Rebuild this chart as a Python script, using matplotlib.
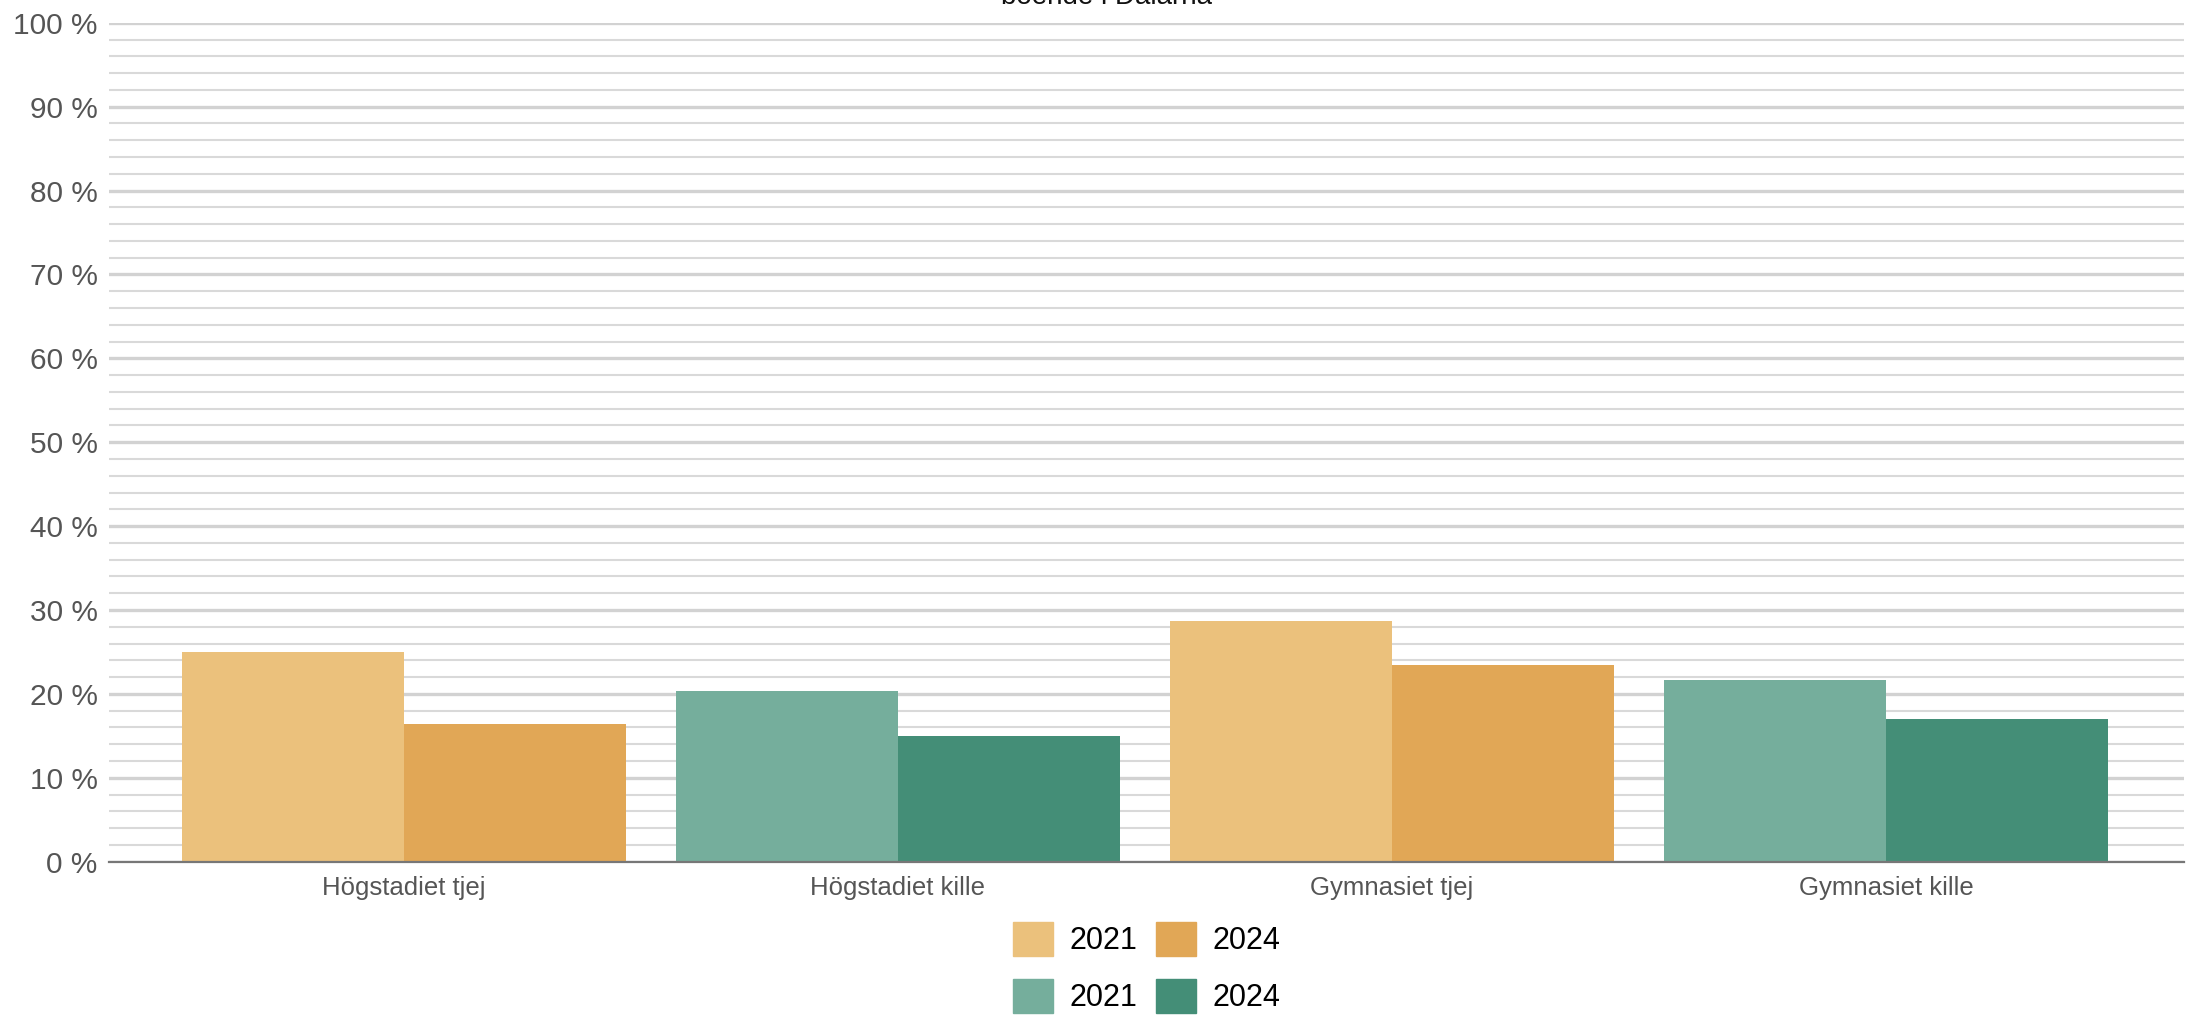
import matplotlib
matplotlib.use("Agg")
import matplotlib.pyplot as plt
import numpy as np
from matplotlib.patches import Patch
from matplotlib.ticker import MultipleLocator, FuncFormatter

plt.rcParams["font.family"] = ["Liberation Sans", "DejaVu Sans"]

categories = ["Högstadiet tjej", "Högstadiet kille", "Gymnasiet tjej", "Gymnasiet kille"]
years = ["2021", "2024"]
v2021 = [25.0, 20.4, 28.7, 21.7]
v2024 = [16.4, 15.0, 23.5, 17.0]
title = "boende i Dalarna"

light_orange = "#EBC17C"
orange = "#E1A756"
light_green = "#75AE9C"
dark_green = "#448E77"
colors_2021 = [light_orange, light_green, light_orange, light_green]
colors_2024 = [orange, dark_green, orange, dark_green]

fig = plt.figure(figsize=(21.91, 10.19), dpi=100, facecolor="white")
ax = fig.add_axes([0.0497, 0.1544, 0.9471, 0.8233])

x = np.arange(len(categories))
w = 0.45
ax.bar(x - w / 2, v2021, w, color=colors_2021, linewidth=0, zorder=3)
ax.bar(x + w / 2, v2024, w, color=colors_2024, linewidth=0, zorder=3)

ax.set_xlim(-0.597, 3.603)
ax.set_ylim(0, 100)
ax.yaxis.set_major_locator(MultipleLocator(10))
ax.yaxis.set_minor_locator(MultipleLocator(2))
ax.yaxis.set_major_formatter(FuncFormatter(lambda v, _: f"{v:.0f} %"))
ax.grid(axis="y", which="major", color="#d2d2d2", linewidth=2.4, zorder=0)
ax.grid(axis="y", which="minor", color="#d9d9d9", linewidth=1.5, zorder=0)
ax.grid(axis="x", visible=False)

ax.set_xticks(x, categories)
ax.tick_params(axis="x", length=0, pad=10, labelsize=18.5, labelcolor="#555555")
ax.tick_params(axis="y", which="both", length=0, pad=8, labelsize=21.5, labelcolor="#555555")

for side in ["top", "right", "left"]:
    ax.spines[side].set_visible(False)
ax.spines["bottom"].set_color("#777777")
ax.spines["bottom"].set_linewidth(1.6)
ax.spines["bottom"].set_zorder(4)

handles = [
    Patch(color=light_orange, label=years[0]),
    Patch(color=light_green, label=years[0]),
    Patch(color=orange, label=years[1]),
    Patch(color=dark_green, label=years[1]),
]
ax.legend(handles=handles, loc="upper center", bbox_to_anchor=(0.5, -0.072), ncol=2,
          frameon=False, fontsize=22, handlelength=1.31, handleheight=1.31,
          handletextpad=0.55, columnspacing=0.6, labelspacing=0.76, borderpad=0,
          borderaxespad=0)

fig.text(0.505, 1 - 4.5 / 1019, title, ha="center", va="baseline", fontsize=20, color="#111111")

fig.savefig("out.png", dpi=100)
